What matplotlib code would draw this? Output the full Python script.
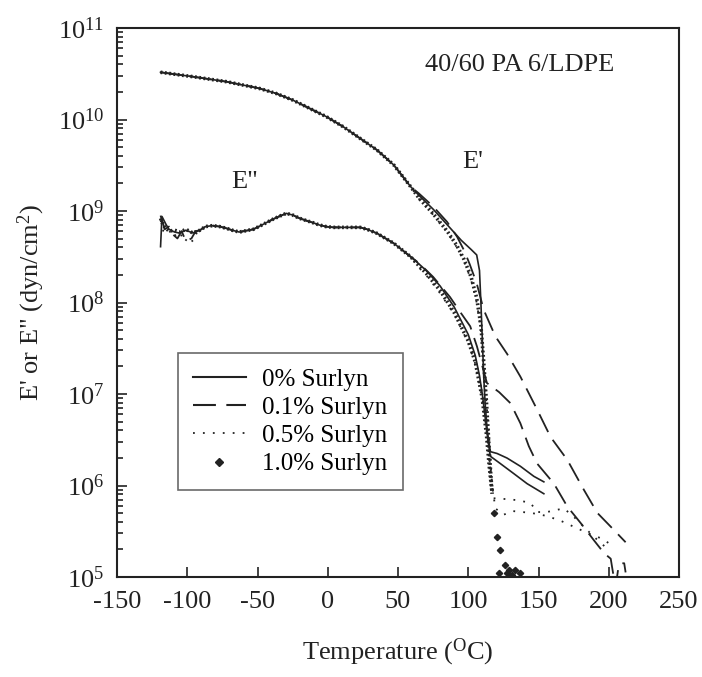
import numpy as np
import matplotlib
matplotlib.use('Agg')
import matplotlib.pyplot as plt
from matplotlib.lines import Line2D
from matplotlib.ticker import LogLocator, NullFormatter, FuncFormatter

plt.rcParams['font.family'] = ['Liberation Serif', 'DejaVu Serif']
plt.rcParams['mathtext.fontset'] = 'custom'
plt.rcParams['mathtext.rm'] = 'Liberation Serif'
plt.rcParams['mathtext.it'] = 'Liberation Serif:italic'

# ---------------- data (log10 of modulus, dyn/cm^2) ----------------
# storage modulus E' shared by all blends below ~60 C
t_ep_shared = [-119, -96, -72, -49, -37, -25, -13, -1, 11, 23, 35, 47, 59]
log_ep_shared = [10.516, 10.468, 10.413, 10.341, 10.286, 10.213, 10.122, 10.031,
                 9.921, 9.794, 9.667, 9.503, 9.266]

# loss modulus E'' shared middle section
t_epp_shared = [-91, -87, -82, -77, -72, -68, -63, -58, -53, -49, -44, -39, -34,
                -29.5, -25, -20, -15, -10.5, -6, -1, 4, 13, 23, 28, 35, 47, 59]
log_epp_shared = [8.79, 8.83, 8.84, 8.83, 8.81, 8.79, 8.77, 8.785, 8.80, 8.83, 8.87,
                  8.91, 8.945, 8.974, 8.956, 8.92, 8.894, 8.872, 8.847, 8.829, 8.821,
                  8.821, 8.821, 8.80, 8.756, 8.647, 8.50]

# 0% Surlyn
t_ep_0 = [65, 75, 85, 95, 102, 106, 108, 109, 110, 111, 112, 113.5, 115.7, 120.5,
          127.6, 137.1, 146.7, 153.8]
log_ep_0 = [9.17, 9.02, 8.85, 8.68, 8.58, 8.52, 8.35, 8.0, 7.6, 7.2, 6.9, 6.6, 6.37,
            6.35, 6.30, 6.21, 6.10, 6.04]
t_epp_0_start = [-119, -118, -115, -113, -109, -106, -101, -96]
log_epp_0_start = [8.61, 8.94, 8.85, 8.80, 8.77, 8.76, 8.79, 8.76]
t_epp_0 = [65, 70, 80, 90, 100, 105, 108, 110, 112, 114, 115.7, 122.8, 132.4, 141.9, 153.8]
log_epp_0 = [8.42, 8.35, 8.18, 7.95, 7.65, 7.42, 7.2, 7.0, 6.75, 6.5, 6.32, 6.24, 6.13,
             6.02, 5.91]

# 0.1% Surlyn
t_ep_01 = [65, 75, 85, 92, 97, 101, 106, 111, 119.3, 127.6, 137.1, 149, 158.6, 170.5,
           182.4, 191.9, 201.4, 212]
log_ep_01 = [9.19, 9.05, 8.88, 8.72, 8.57, 8.42, 8.21, 7.92, 7.63, 7.44, 7.19, 6.83,
             6.53, 6.28, 5.95, 5.70, 5.55, 5.38]
t_epp_01_start = [-119, -116, -113, -110, -107, -104, -101, -97, -94]
log_epp_01_start = [8.95, 8.80, 8.83, 8.74, 8.70, 8.78, 8.67, 8.70, 8.78]
t_epp_01 = [65, 75, 87, 95, 101.4, 106.2, 113.3, 122, 130, 137.1, 143.1, 149, 161,
            170.5, 180, 189.5, 196.7, 201.4, 203, 205, 207, 209, 211, 212]
log_epp_01 = [8.43, 8.28, 8.06, 7.88, 7.74, 7.52, 7.12, 7.02, 6.90, 6.68, 6.43, 6.24,
              6.02, 5.77, 5.59, 5.40, 5.26, 5.20, 5.05, 4.9, 5.12, 5.15, 5.15, 5.05]

# 0.5% Surlyn
t_ep_05 = [65, 75, 85, 92, 97, 102, 106, 109, 111, 113, 115, 116.5, 118, 120.5, 134.8,
           144.3, 149, 156, 168, 175, 184.8, 194.3, 200]
log_ep_05 = [9.13, 8.96, 8.77, 8.60, 8.45, 8.25, 8.0, 7.7, 7.3, 6.9, 6.5, 6.1, 5.86,
             5.86, 5.84, 5.81, 5.71, 5.71, 5.75, 5.66, 5.51, 5.37, 5.30]
t_epp_05_start = [-119, -117, -114, -111, -108, -105, -102, -99, -96, -93]
log_epp_05_start = [8.90, 8.78, 8.74, 8.80, 8.72, 8.76, 8.66, 8.72, 8.665, 8.77]
t_epp_05 = [65, 70, 80, 90, 100, 105, 110, 113, 115, 117, 119.3, 125, 132, 145, 155,
            165, 175, 185, 195, 202]
log_epp_05 = [8.38, 8.30, 8.10, 7.87, 7.56, 7.33, 6.95, 6.6, 6.3, 6.0, 5.75, 5.68, 5.72,
              5.70, 5.67, 5.62, 5.55, 5.48, 5.42, 5.35]

# 1.0% Surlyn
t_ep_10 = [65, 75, 85, 92, 97, 102, 106, 109, 111, 113, 114.5, 115.7, 117]
log_ep_10 = [9.14, 8.97, 8.78, 8.62, 8.47, 8.28, 8.05, 7.75, 7.35, 6.9, 6.5, 6.2, 5.91]
t_10_scatter = [118, 120.5, 122.9, 121.7, 126.4, 127.6, 129, 131.2, 133.6, 137.1]
log_10_scatter = [5.70, 5.44, 5.30, 5.04, 5.13, 5.04, 5.08, 5.02, 5.08, 5.04]
t_epp_10_start = [-119, -117, -113, -109, -105, -101, -96]
log_epp_10_start = [8.92, 8.84, 8.78, 8.79, 8.77, 8.80, 8.76]
t_epp_10 = [65, 70, 80, 90, 100, 105, 110, 113, 115, 117]
log_epp_10 = [8.40, 8.32, 8.13, 7.89, 7.58, 7.35, 6.95, 6.55, 6.2, 5.91]

x_ticks = [-150, -100, -50, 0, 50, 100, 150, 200, 250]
legend_labels = ['0% Surlyn', '0.1% Surlyn', '0.5% Surlyn', '1.0% Surlyn']

# ---------------- figure ----------------
FS = 19
INK = '#222222'
fig = plt.figure(figsize=(7.02, 6.77), dpi=100)
ax = fig.add_axes([117/702, 1-577/677, (679-117)/702, (577-28)/677])
ax.set_yscale('log')


def series(t_a, v_a, t_b, v_b):
    t = np.array(list(t_a) + list(t_b), dtype=float)
    v = 10 ** np.array(list(v_a) + list(v_b), dtype=float)
    return t, v


styles = {
    '10': dict(color=INK, lw=2.6, ls=(0, (0.5, 0.7))),
    '05': dict(color=INK, lw=1.3, ls=(0, (1, 4.5))),
    '01': dict(color=INK, lw=1.3, ls=(0, (11, 5))),
    '0':  dict(color=INK, lw=1.2, ls='-'),
}

data = {
    '10': ((t_ep_10, log_ep_10), (t_epp_10_start, log_epp_10_start, t_epp_10, log_epp_10)),
    '05': ((t_ep_05, log_ep_05), (t_epp_05_start, log_epp_05_start, t_epp_05, log_epp_05)),
    '01': ((t_ep_01, log_ep_01), (t_epp_01_start, log_epp_01_start, t_epp_01, log_epp_01)),
    '0':  ((t_ep_0, log_ep_0), (t_epp_0_start, log_epp_0_start, t_epp_0, log_epp_0)),
}

for key in ['10', '05', '01', '0']:
    (te, le), (ts, ls_, tm, lm) = data[key]
    t, v = series(t_ep_shared, log_ep_shared, te, le)
    ax.plot(t, v, **styles[key])
    t2 = list(ts) + list(t_epp_shared) + list(tm)
    v2 = 10 ** np.array(list(ls_) + list(log_epp_shared) + list(lm))
    ax.plot(t2, v2, **styles[key])

ax.plot(t_10_scatter, 10 ** np.array(log_10_scatter), ls='none', marker='D', ms=3.2,
        color=INK)

ax.set_xlim(-150, 250)
ax.set_ylim(1e5, 1e11)
ax.set_xticks(x_ticks)
ax.set_xticklabels([str(v) for v in x_ticks])
ax.yaxis.set_major_locator(LogLocator(base=10, numticks=10))
ax.yaxis.set_minor_locator(LogLocator(base=10, subs=np.arange(2, 10), numticks=20))
ax.yaxis.set_minor_formatter(NullFormatter())
ax.yaxis.set_major_formatter(FuncFormatter(
    lambda v, _: r'$\mathregular{10^{%d}}$' % int(round(np.log10(v)))))

ax.tick_params(which='both', direction='in', top=False, right=False, labelsize=FS,
               width=1.2, color=INK, labelcolor=INK)
ax.tick_params(axis='x', which='major', length=7, pad=10)
ax.tick_params(axis='y', which='major', length=7, pad=9)
ax.tick_params(axis='y', which='minor', length=4)
for sp in ax.spines.values():
    sp.set_linewidth(1.5)
    sp.set_color(INK)

ax.set_xlabel('Temperature ($\\mathregular{^{O}}$C)', fontsize=FS, labelpad=17,
              color=INK)
ax.set_ylabel('E\' or E" (dyn/cm$\\mathregular{^{2}}$)', fontsize=FS, labelpad=8,
              color=INK)

ax.text(69, 10 ** 10.596, '40/60 PA 6/LDPE', fontsize=FS, ha='left', va='center',
        color=INK)
ax.text(103, 10 ** 9.535, "E'", fontsize=FS, ha='center', va='center', color=INK)
ax.text(-59, 10 ** 9.317, 'E"', fontsize=FS, ha='center', va='center', color=INK)

handles = [
    Line2D([], [], color=INK, lw=1.5, ls='-'),
    Line2D([], [], color=INK, lw=1.5, ls=(0, (11, 5))),
    Line2D([], [], color=INK, lw=1.3, ls=(0, (1, 4.5))),
    Line2D([], [], color=INK, ls='none', marker='D', ms=4),
]
leg = fig.legend(handles, legend_labels, loc='upper left',
                 bbox_to_anchor=(178/702, 1-353/677), fontsize=18, frameon=True,
                 fancybox=False, edgecolor='#444444', handlelength=2.1,
                 labelspacing=0.23, borderpad=0.6, handletextpad=0.68,
                 borderaxespad=0.0)
leg.get_frame().set_linewidth(1.2)

fig.savefig('out.png', dpi=100)
